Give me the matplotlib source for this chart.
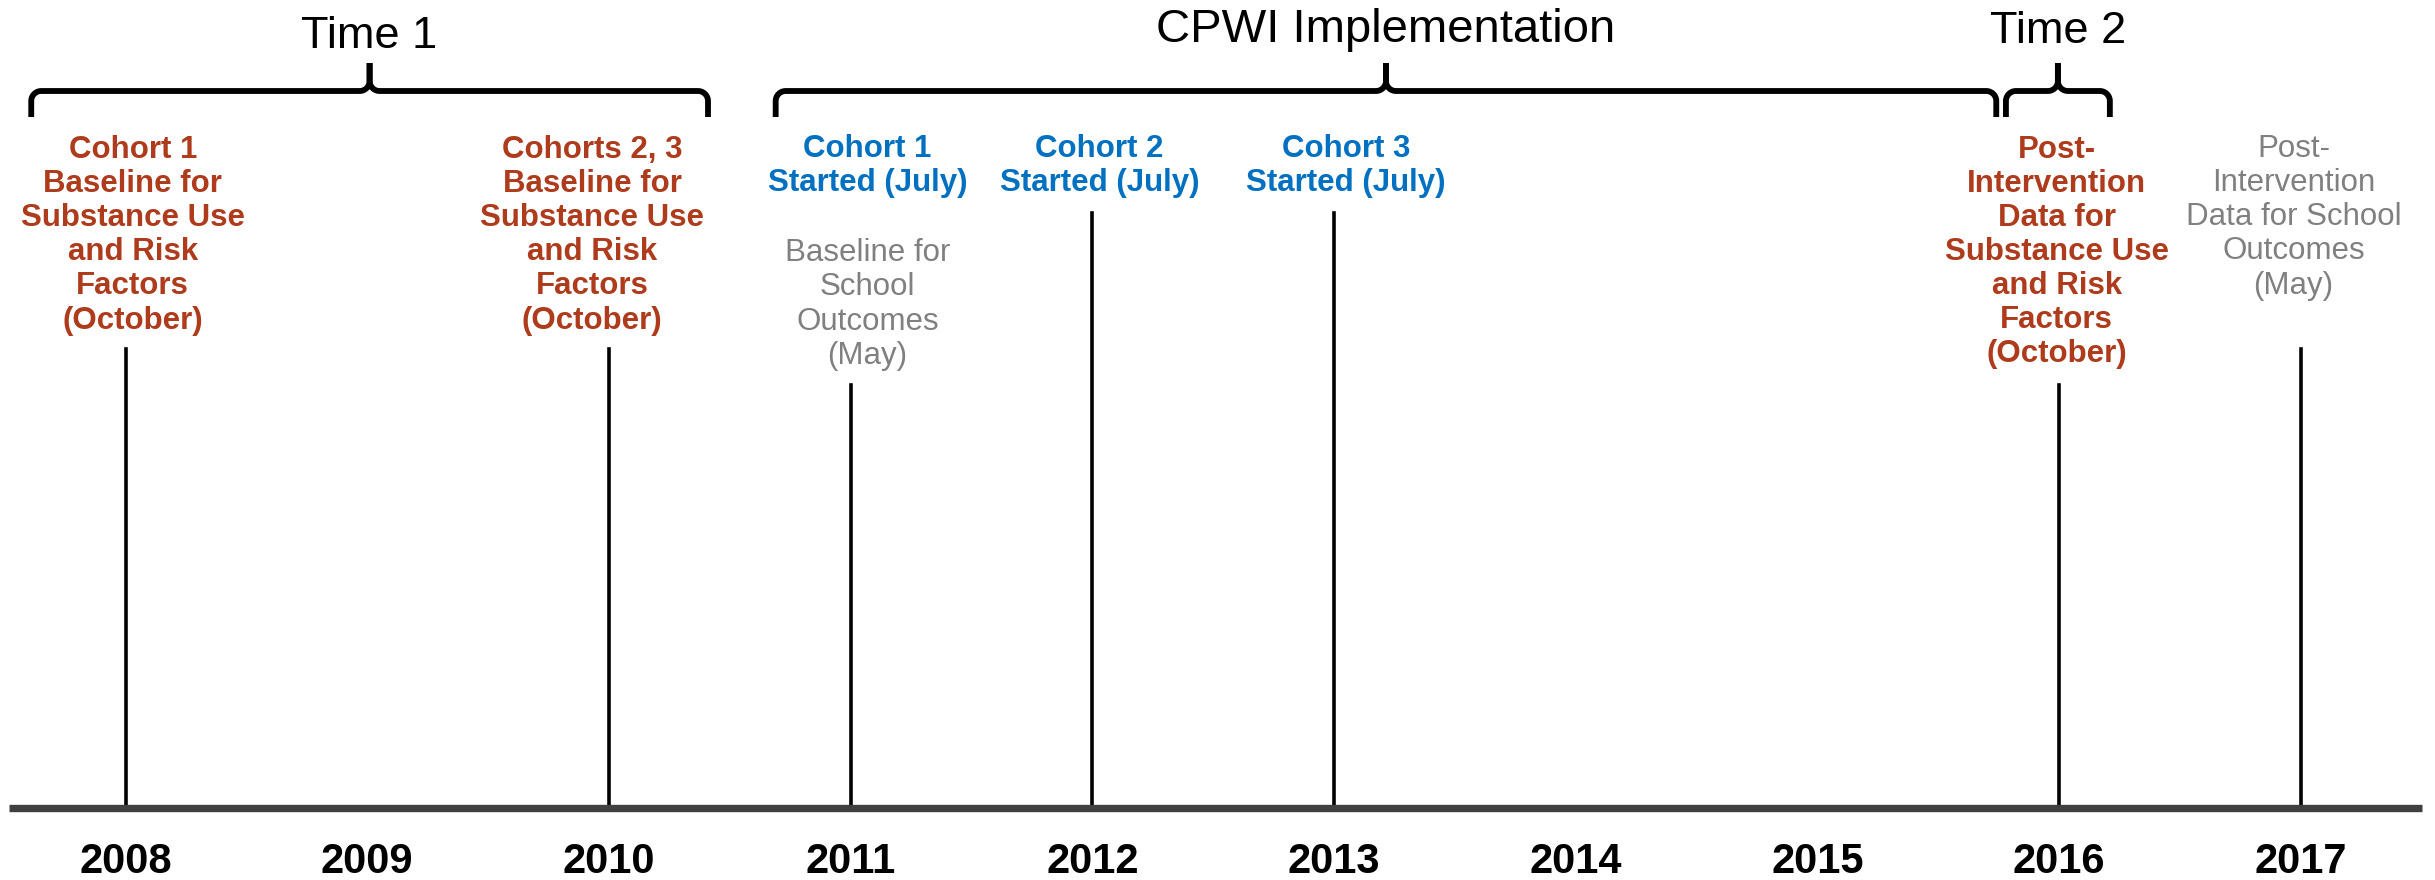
import numpy as np
import matplotlib.pyplot as plt

# timeline data
years = [2008, 2009, 2010, 2011, 2012, 2013, 2014, 2015, 2016, 2017]

event_years = [2008, 2010, 2011, 2012, 2013, 2016, 2017]
event_tops = [349, 349, 385, 213, 213, 385, 349]   # y px of line top

labels_red = [
    (2008.03, "Cohort 1\nBaseline for\nSubstance Use\nand Risk\nFactors\n(October)"),
    (2009.93, "Cohorts 2, 3\nBaseline for\nSubstance Use\nand Risk\nFactors\n(October)"),
    (2015.99, "Post-\nIntervention\nData for\nSubstance Use\nand Risk\nFactors\n(October)"),
]
labels_blue = [
    (2011.07, "Cohort 1\nStarted (July)"),
    (2012.03, "Cohort 2\nStarted (July)"),
    (2013.05, "Cohort 3\nStarted (July)"),
]
labels_gray = [
    (2011.07, "Baseline for\nSchool\nOutcomes\n(May)"),
    (2016.97, "Post-\nIntervention\nData for School\nOutcomes\n(May)"),
]

brace_spans = [(2007.61, 2010.41, "Time 1"),
               (2010.69, 2015.74, "CPWI Implementation"),
               (2015.78, 2016.21, "Time 2")]

RED = '#AE3B1C'
BLUE = '#0070C0'
GRAY = '#808080'
FONT = 'Liberation Sans'
X0_PX = 125.5
PX_PER_YEAR = 241.7
LINE_PX = 33.9

fig = plt.figure(figsize=(24.35, 8.8), dpi=100)
ax = fig.add_axes([0, 0, 1, 1])
ax.set_xlim(2008 - X0_PX / PX_PER_YEAR, 2008 + (2435 - X0_PX) / PX_PER_YEAR)
ax.set_ylim(880, 0)
ax.axis('off')

# main axis line
ax.plot([2007.52, 2017.50], [808, 808], color='#404040', lw=5.3,
        solid_capstyle='butt', zorder=3)

# event lines
for x, top in zip(event_years, event_tops):
    ax.plot([x, x], [top, 806], color='black', lw=2.6, zorder=2)

# year labels
for y in years:
    ax.text(y, 862, str(y), ha='center', va='center', fontsize=30,
            fontweight='bold', family=FONT)


def block(x, first_base, txt, color, weight):
    # va='baseline' anchors the last line, so shift by the line count
    n = txt.count('\n')
    ax.text(x, first_base + n * LINE_PX, txt, ha='center', va='baseline',
            fontsize=22.5, fontweight=weight, color=color, family=FONT,
            linespacing=1.18)


for x, t in labels_red:
    block(x, 159, t, RED, 'bold')
for x, t in labels_blue:
    block(x, 157, t, BLUE, 'bold')
block(labels_gray[0][0], 262, labels_gray[0][1], GRAY, 'normal')
block(labels_gray[1][0], 158, labels_gray[1][1], GRAY, 'normal')


def brace(x0, x1, ybar=91, yend=117, ytip=63, r=10):
    rx = r / PX_PER_YEAR
    xm = (x0 + x1) / 2
    t = np.linspace(0, np.pi / 2, 15)
    xs, ys = [x0], [yend]
    # left corner
    xs += list(x0 + rx - rx * np.cos(t)); ys += list(ybar + r - r * np.sin(t))
    # to center, curve up
    xs += list(xm - rx + rx * np.sin(t)); ys += list(ybar - r + r * np.cos(t))
    xs += [xm]; ys += [ytip]
    ax.plot(xs, ys, color='black', lw=4.2, solid_capstyle='butt')
    xs2 = [2 * xm - v for v in xs]
    ax.plot(xs2, ys, color='black', lw=4.2, solid_capstyle='butt')
    return xm


title_base = {"Time 1": 48, "CPWI Implementation": 42, "Time 2": 43}
title_size = {"Time 1": 32.5, "CPWI Implementation": 34, "Time 2": 32.5}
for x0, x1, name in brace_spans:
    xm = brace(x0, x1)
    ax.text(xm, title_base[name], name, ha='center', va='baseline',
            fontsize=title_size[name], family=FONT)

fig.savefig('out.png', dpi=100, facecolor='white')
